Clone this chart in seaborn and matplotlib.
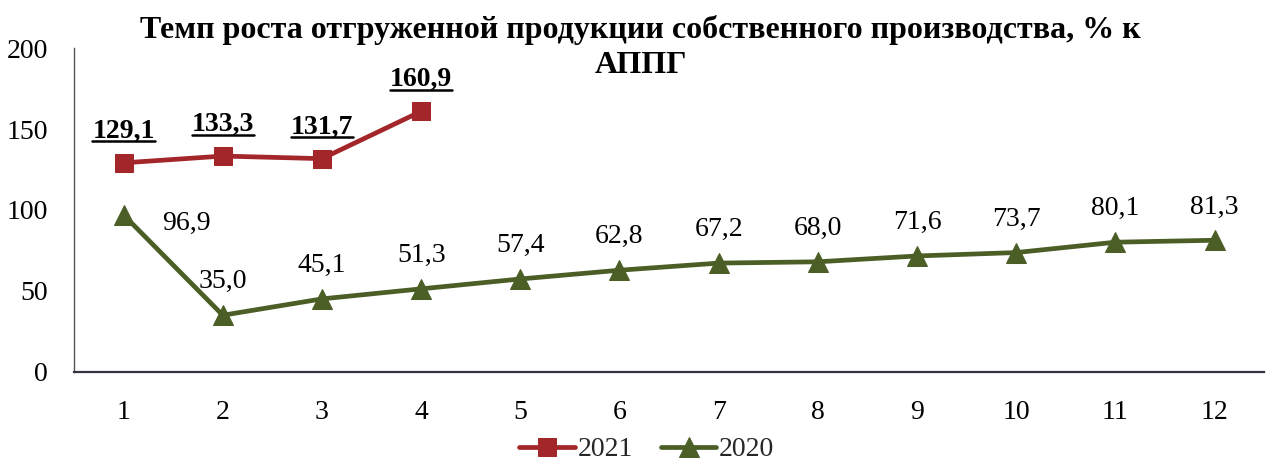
import matplotlib
matplotlib.use("Agg")
import matplotlib.pyplot as plt
import seaborn as sns
import pandas as pd

months = list(range(1, 13))
vals_2021 = [129.1, 133.3, 131.7, 160.9]
vals_2020 = [96.9, 35.0, 45.1, 51.3, 57.4, 62.8, 67.2, 68.0, 71.6, 73.7, 80.1, 81.3]
title_lines = ["Темп роста отгруженной продукции собственного производства, % к", "АППГ"]

sns.set_theme(style="white")
plt.rcParams['font.family'] = ['Liberation Serif', 'DejaVu Serif']

c21 = "#A3262A"
c20 = "#4A5E26"

df21 = pd.DataFrame({"m": months[:len(vals_2021)], "v": vals_2021})
df20 = pd.DataFrame({"m": months, "v": vals_2020})

fig = plt.figure(figsize=(12.66, 4.62), dpi=100)
ax = fig.add_axes([0.0585, 0.195, 0.94, 0.701])

sns.lineplot(data=df21, x="m", y="v", ax=ax, color=c21, linewidth=3.4,
             marker="s", markersize=13, markeredgecolor=c21, label="2021")
sns.lineplot(data=df20, x="m", y="v", ax=ax, color=c20, linewidth=3.4,
             marker="^", markersize=14, markeredgecolor=c20, label="2020")

ax.set_xlim(0.5, 12.5)
ax.set_ylim(0, 200)
ax.set_yticks([0, 50, 100, 150, 200])
ax.set_xticks(months)
ax.set_xlabel("")
ax.set_ylabel("")
ax.tick_params(axis='both', labelsize=20, length=0, colors="black")
ax.tick_params(axis='x', pad=20)
ax.tick_params(axis='y', pad=19)
for s in ["top", "right"]:
    ax.spines[s].set_visible(False)
ax.spines["left"].set_color("#555555")
ax.spines["left"].set_linewidth(1.0)
ax.spines["bottom"].set_color("#333344")
ax.spines["bottom"].set_linewidth(1.6)

def fmt(v):
    return f"{v:.1f}".replace(".", ",")

texts21 = []
for m, v in zip(df21["m"], df21["v"]):
    t = ax.annotate(fmt(v), (m, v), xytext=(0, 14), textcoords="offset points",
                    ha="center", va="bottom", fontsize=20, fontweight="bold", color="black")
    texts21.append(t)

for i, (m, v) in enumerate(zip(df20["m"], df20["v"])):
    if i == 0:
        ax.annotate(fmt(v), (m, v), xytext=(45, -6), textcoords="offset points",
                    ha="center", va="center", fontsize=20, color="black")
    else:
        ax.annotate(fmt(v), (m, v), xytext=(0, 15), textcoords="offset points",
                    ha="center", va="bottom", fontsize=20, color="black")

ax.get_legend().remove()
handles, labels = ax.get_legend_handles_labels()
fig.legend(handles, labels, loc="lower center", bbox_to_anchor=(0.511, -0.055), ncol=2,
           frameon=False, fontsize=20, handlelength=2.0, handletextpad=0.1,
           columnspacing=1.0)

fig.text(0.506, 1 - 30 / 462, title_lines[0], ha="center", va="center", fontsize=23,
         fontweight="bold", color="black")
fig.text(0.506, 1 - 65 / 462, title_lines[1], ha="center", va="center", fontsize=23,
         fontweight="bold", color="black")

# underline 2021 labels
fig.canvas.draw()
renderer = fig.canvas.get_renderer()
W = fig.dpi * fig.get_figwidth()
H = fig.dpi * fig.get_figheight()
for t in texts21:
    bb = t.get_window_extent(renderer)
    y = bb.y0 + 2
    fig.add_artist(plt.Line2D([bb.x0 / W, bb.x1 / W], [y / H] * 2,
                              transform=fig.transFigure, color="black", linewidth=1.8))

fig.savefig("out.png", dpi=100, facecolor="white")
